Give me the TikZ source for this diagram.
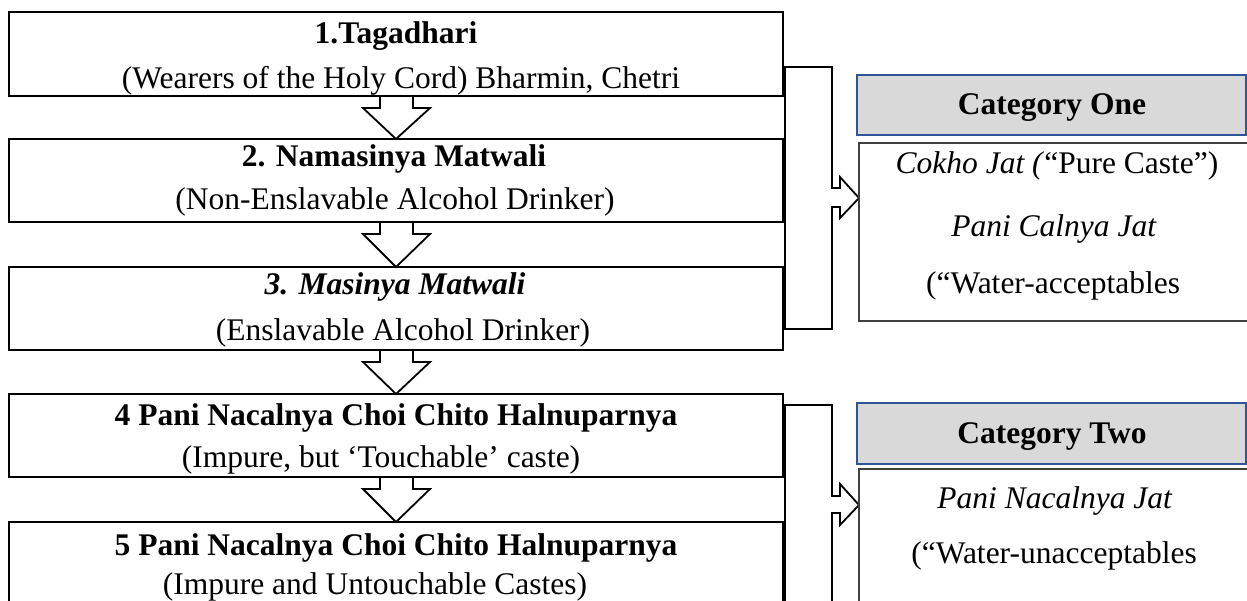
\documentclass[tikz,border=0pt]{standalone}
\usepackage{fontspec}
\setmainfont{Liberation Serif}
\usetikzlibrary{calc}
\definecolor{hdrfill}{HTML}{D9D9D9}
\definecolor{hdrblue}{HTML}{2F5597}
\definecolor{boxgray}{HTML}{404040}
\newcommand{\blockdown}[2]{%
  \draw[darrow] ($(#1.south)+(-16,0)$) -- ($(#1.south)+(-16,12)$) -- ($(#1.south)+(-33,12)$)
    -- (#2.north) -- ($(#1.south)+(34,12)$) -- ($(#1.south)+(17,12)$) -- ($(#1.south)+(17,0)$);}
\begin{document}
\begin{tikzpicture}[x=1pt,y=-1pt,
  lbox/.style={draw=black, line width=1.8pt, minimum width=774pt, inner sep=0pt, outer sep=0pt},
  hbox/.style={draw=hdrblue, fill=hdrfill, line width=1.5pt, minimum width=389pt, minimum height=60pt, inner sep=0pt, outer sep=0pt},
  cbox/.style={draw=boxgray, line width=1.3pt, minimum width=393pt, inner sep=0pt, outer sep=0pt},
  txt/.style={anchor=base, inner sep=0pt, font=\fontsize{31.5}{36}\selectfont},
  darrow/.style={draw=black, line width=1.8pt, line join=miter},
  bracket/.style={draw=black, line width=1.8pt, line join=miter}]
\useasboundingbox (0,0) rectangle (1247,600);
\clip (0,0) rectangle (1247,600);

% left boxes
\node[lbox, minimum height=84pt] (b1) at (396,54) {};
\node[lbox, minimum height=83pt] (b2) at (396,180.5) {};
\node[lbox, minimum height=83pt] (b3) at (396,308.5) {};
\node[lbox, minimum height=83pt] (b4) at (396,435.5) {};
\node[lbox, minimum height=118pt] (b5) at (396,581) {};

% down arrows
\blockdown{b1}{b2}
\blockdown{b2}{b3}
\blockdown{b3}{b4}
\blockdown{b4}{b5}

% brackets with side arrows
\coordinate (tip1) at (859,198);
\coordinate (tip2) at (859,505);
\draw[bracket] (785,67) -- (832,67) -- (832,188) -- (840,188) -- (840,177) -- (tip1)
  -- (840,218) -- (840,207) -- (832,207) -- (832,329) -- (785,329) -- cycle;
\draw[bracket] (785,405) -- (832,405) -- (832,496) -- (840,496) -- (840,484) -- (tip2)
  -- (840,525) -- (840,513) -- (832,513) -- (832,615) -- (785,615) -- cycle;

% right side
\node[hbox] (h1) at (1051.5,105) {};
\node[cbox, minimum height=178pt] (c1) at (1055.5,232) {};
\node[hbox, minimum height=61pt] (h2) at (1051.5,433.5) {};
\node[cbox, minimum height=180pt] (c2) at (1055.5,559) {};

% texts left
\node[txt] (t1) at (396,43) {\textbf{1.Tagadhari}};
\node[txt] (s1) at (401,88) {(Wearers of the Holy Cord) Bharmin, Chetri};
\node[txt] (t2) at (394,166) {\textbf{2. Namasinya Matwali}};
\node[txt] (s2) at (395,209) {(Non-Enslavable Alcohol Drinker)};
\node[txt] (t3) at (395,294) {\textbf{\textit{3. Masinya Matwali}}};
\node[txt] (s3) at (403,340) {(Enslavable Alcohol Drinker)};
\node[txt] (t4) at (396,425) {\textbf{4 Pani Nacalnya Choi Chito Halnuparnya}};
\node[txt] (s4) at (381,467) {(Impure, but ‘Touchable’ caste)};
\node[txt] (t5) at (396,555) {\textbf{5 Pani Nacalnya Choi Chito Halnuparnya}};
\node[txt] (s5) at (375,594) {(Impure and Untouchable Castes)};

% texts right
\node[txt] (ht1) at (1052,114) {\textbf{Category One}};
\node[txt] (r1) at (1057,173) {\textit{Cokho Jat (}“Pure Caste”)};
\node[txt] (r2) at (1054,236) {\textit{Pani Calnya Jat}};
\node[txt] (r3) at (1053,293) {(“Water-acceptables};
\node[txt] (ht2) at (1052,443) {\textbf{Category Two}};
\node[txt] (r4) at (1055,508) {\textit{Pani Nacalnya Jat}};
\node[txt] (r5) at (1054,563) {(“Water-unacceptables};
\end{tikzpicture}
\end{document}
